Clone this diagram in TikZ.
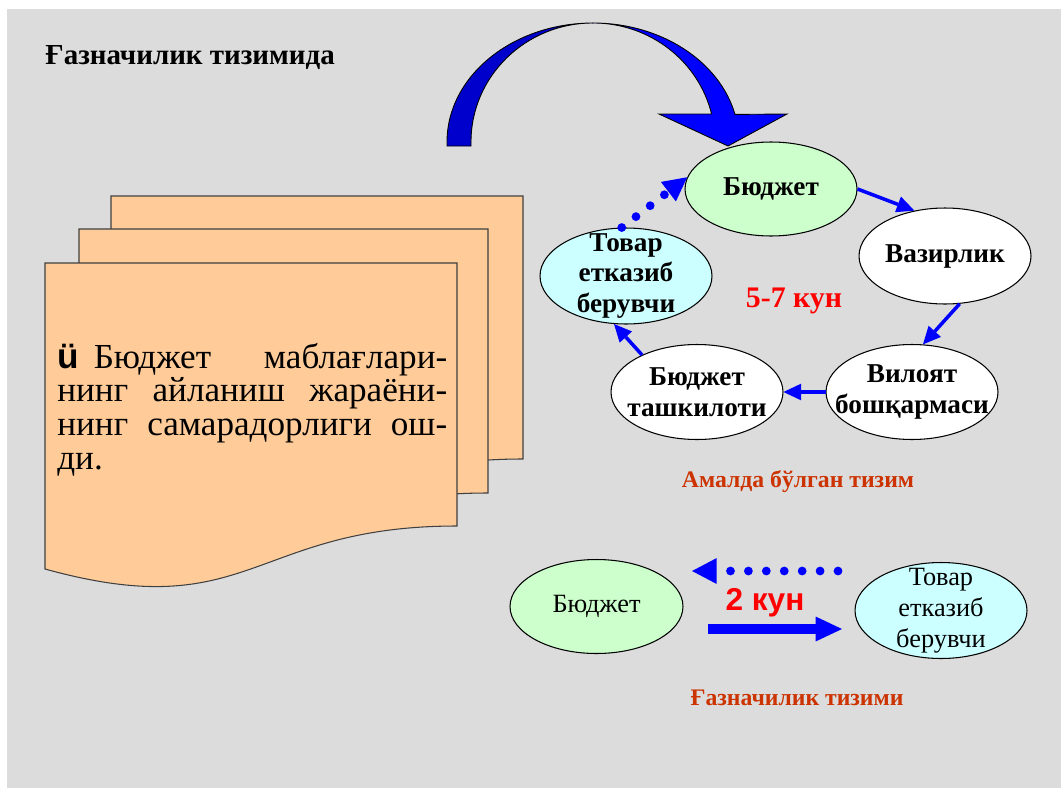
\documentclass[tikz,border=0pt]{standalone}
\usepackage{fontspec}
\setmainfont{Liberation Serif}
\newfontfamily\arialface{Liberation Sans}
\usepackage{tikz}
\usetikzlibrary{arrows.meta}
\usetikzlibrary{shapes.geometric}

\definecolor{bggray}{HTML}{DCDCDC}
\definecolor{budgreen}{HTML}{CCFFCC}
\definecolor{supcyan}{HTML}{CCFFFF}
\definecolor{paper}{HTML}{FFCC99}
\definecolor{capred}{HTML}{CC3300}
\definecolor{darkblue}{HTML}{0000CC}

\begin{document}
\begin{tikzpicture}[x=0.02cm,y=0.02cm,
    oval/.style={ellipse,draw=black,line width=0.6pt,inner sep=0pt,
      minimum width=3.44cm,minimum height=1.9cm},
    boldtxt/.style={font=\fontsize{15.5}{17.5}\selectfont\bfseries,align=center},
    plaintxt/.style={font=\fontsize{15}{17.6}\selectfont,align=center},
    flow/.style={draw=blue,line width=2pt,-{Triangle[length=10pt,width=9.5pt,line width=0pt]}},
    dotflow/.style={draw=blue,line width=5pt,line cap=round,dash pattern=on 0pt off 10.2pt,
      -{Triangle[length=13.5pt,width=14pt,line width=0pt]}},
    page/.style={fill=paper,draw=black!75,line width=0.6pt},
    caption/.style={text=capred,font=\fontsize{13.5}{16}\selectfont\bfseries,anchor=base}]
		\useasboundingbox (0,0) rectangle (1061,-788);
		\fill[bggray] (7,-9) rectangle (1061,-788);
		\node[anchor=base west,inner sep=0pt,font=\fontsize{16.5}{19}\selectfont\bfseries] (title) at (45,-64) {Ғазначилик тизимида};
		% curved arrow
		\filldraw[fill=darkblue,draw=black,line width=0.5pt] (447,-146) -- (447,-142)
			arc[start angle=180,end angle=90,x radius=146,y radius=119]
			arc[start angle=90,end angle=180,x radius=122,y radius=119] -- (471,-146) -- cycle;
		\filldraw[fill=blue,draw=black,line width=0.5pt] (593,-23)
			arc[start angle=90,end angle=13.4,x radius=146,y radius=119]
			-- (787,-114) -- (728,-146) -- (659,-114) -- (711.6,-114)
			arc[start angle=13.6,end angle=90,x radius=122,y radius=119] -- cycle;
		% pages
		\foreach \xa/\xb/\yt/\yr/\yc/\yl in {111/523/196/459/559/502, 79/488/229/493/593/536, 45/457/263/526/626/569} {
			\filldraw[page] (\xa,-\yt) -- (\xb,-\yt) -- (\xb,-\yr)
				.. controls ({(\xa+\xb)/2},-\yr) and ({(\xa+\xb)/2},-\yc) .. (\xa,-\yl) -- cycle;
		}
		\node[anchor=base west,inner sep=0pt,text width=7.8cm,align=justify,font=\fontsize{20}{19.3}\selectfont] (note) at (57,-368)
			{{\arialface\bfseries ü}\hspace{0.3cm}Бюджет маблағлари-\linebreak нинг айланиш жараёни-\linebreak нинг самарадорлиги ош-\linebreak ди.};
		% actual cycle
		\node[oval,fill=budgreen,boldtxt,minimum height=1.88cm] (bud) at (771,-189) {Бюджет};
		\node[oval,fill=white,boldtxt,minimum height=1.92cm] (vaz) at (945,-256) {Вазирлик};
		\node[oval,fill=white,label={[boldtxt]center:Вилоят\\бошқармаси}] (vil) at (912,-392) {};
		\node[oval,fill=white,label={[boldtxt]center:Бюджет\\ташкилоти}] (bt) at (697,-392) {};
		\node[oval,fill=supcyan,minimum height=1.92cm,label={[boldtxt]center:Товар\\етказиб\\берувчи}] (tov) at (626,-276) {};
		\draw[flow] (bud.east) -- (vaz.124);
		\draw[flow] (vaz.-73) -- (vil.77);
		\draw[flow] (vil.west) -- (bt.east);
		\draw[flow] (bt.146) -- (tov.-104);
		\draw[dotflow] (tov.95) -- (bud.172);
		\node[anchor=base,text=red,font=\fontsize{17}{19}\selectfont\bfseries] (days) at (794,-307) {5-7 кун};
		\node[caption] (actual) at (798,-487) {Амалда бўлган тизим};
		% treasury
		\node[oval,fill=budgreen,plaintxt,minimum width=3.46cm,minimum height=1.88cm] (bud2) at (596.5,-606.5) {Бюджет};
		\node[oval,fill=supcyan,minimum height=1.92cm,label={[plaintxt]center:Товар\\етказиб\\берувчи}] (tov2) at (941,-610.5) {};
		\coordinate (back0) at (838,-571);
		\coordinate (back1) at (692,-571);
		\coordinate (fwd0) at (708,-629);
		\coordinate (fwd1) at (842,-629);
		\draw[dotflow,-{Triangle[length=14pt,width=14.7pt,line width=0pt]}] (back0) -- (back1);
		\draw[draw=blue,line width=5.7pt,-{Triangle[length=15pt,width=14.2pt,line width=0pt]}] (fwd0) -- (fwd1);
		\node[anchor=base,text=red,font=\arialface\fontsize{18}{20}\selectfont\bfseries] (days2) at (765,-610) {2 кун};
		\node[caption] (treasury) at (797,-705) {Ғазначилик тизими};
\end{tikzpicture}
\end{document}
